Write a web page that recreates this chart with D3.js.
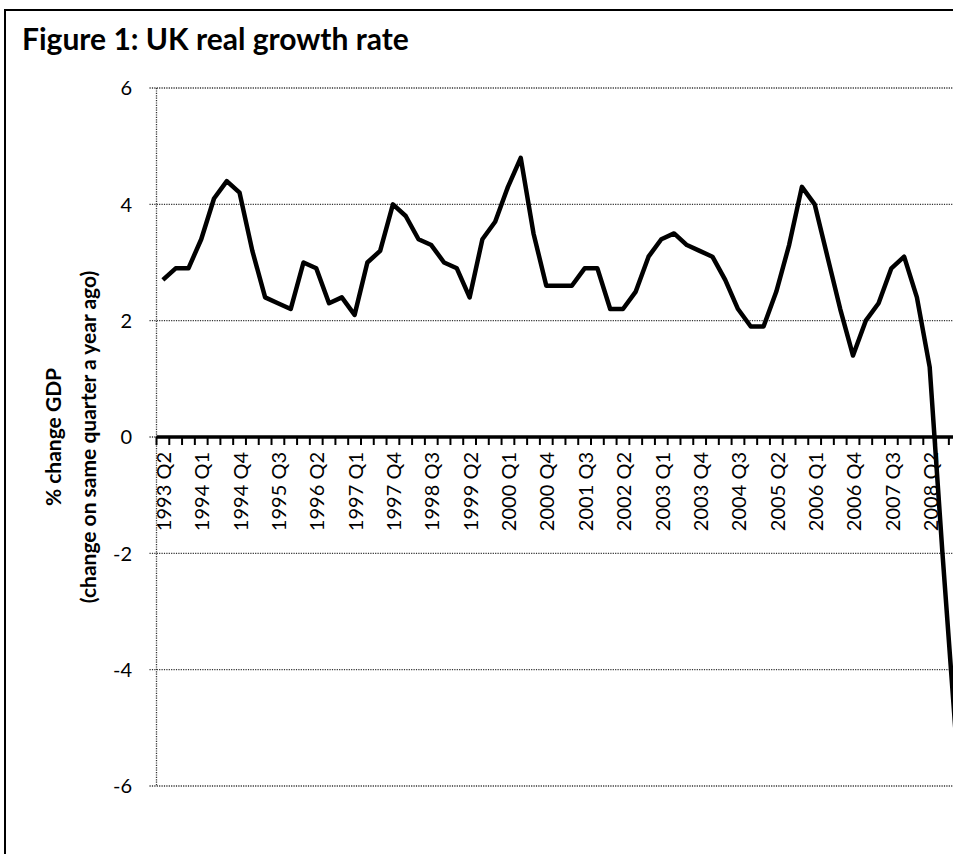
<!DOCTYPE html>
<html>
<head>
<meta charset="utf-8">
<script src="https://cdn.jsdelivr.net/npm/d3@7"></script>
<style>
  html, body { margin: 0; padding: 0; background: #fff; overflow: hidden; }
  text { font-family: Lato, "Open Sans", sans-serif; fill: #000; }
</style>
</head>
<body>
<div id="chart"></div>
<script>
// Quarters on the category axis
const quarters = [
  "1993 Q2", "1993 Q3", "1993 Q4",
  "1994 Q1", "1994 Q2", "1994 Q3", "1994 Q4",
  "1995 Q1", "1995 Q2", "1995 Q3", "1995 Q4",
  "1996 Q1", "1996 Q2", "1996 Q3", "1996 Q4",
  "1997 Q1", "1997 Q2", "1997 Q3", "1997 Q4",
  "1998 Q1", "1998 Q2", "1998 Q3", "1998 Q4",
  "1999 Q1", "1999 Q2", "1999 Q3", "1999 Q4",
  "2000 Q1", "2000 Q2", "2000 Q3", "2000 Q4",
  "2001 Q1", "2001 Q2", "2001 Q3", "2001 Q4",
  "2002 Q1", "2002 Q2", "2002 Q3", "2002 Q4",
  "2003 Q1", "2003 Q2", "2003 Q3", "2003 Q4",
  "2004 Q1", "2004 Q2", "2004 Q3", "2004 Q4",
  "2005 Q1", "2005 Q2", "2005 Q3", "2005 Q4",
  "2006 Q1", "2006 Q2", "2006 Q3", "2006 Q4",
  "2007 Q1", "2007 Q2", "2007 Q3", "2007 Q4",
  "2008 Q1", "2008 Q2", "2008 Q3", "2008 Q4"
];

// % change in GDP on the same quarter a year ago
const growth = [
  2.7, 2.9, 2.9,
  3.4, 4.1, 4.4, 4.2,
  3.2, 2.4, 2.3, 2.2,
  3.0, 2.9, 2.3, 2.4,
  2.1, 3.0, 3.2, 4.0,
  3.8, 3.4, 3.3, 3.0,
  2.9, 2.4, 3.4, 3.7,
  4.3, 4.8, 3.5, 2.6,
  2.6, 2.6, 2.9, 2.9,
  2.2, 2.2, 2.5, 3.1,
  3.4, 3.5, 3.3, 3.2,
  3.1, 2.7, 2.2, 1.9,
  1.9, 2.5, 3.3, 4.3,
  4.0, 3.1, 2.2, 1.4,
  2.0, 2.3, 2.9, 3.1,
  2.4, 1.2, -2.0, -5.0
];

// Labels shown on the category axis (every third quarter)
const shownLabels = [
  "1993 Q2", "1994 Q1", "1994 Q4", "1995 Q3", "1996 Q2", "1997 Q1", "1997 Q4",
  "1998 Q3", "1999 Q2", "2000 Q1", "2000 Q4", "2001 Q3", "2002 Q2", "2003 Q1",
  "2003 Q4", "2004 Q3", "2005 Q2", "2006 Q1", "2006 Q4", "2007 Q3", "2008 Q2"
];

const yTicks = [-6, -4, -2, 0, 2, 4, 6];

const width = 1000, height = 854;
const plot = { left: 156.5, top: 88, bottom: 786, step: 12.78 };

const svg = d3.select("#chart")
  .append("svg")
  .attr("width", width)
  .attr("height", height);

// Outer frame of the chart
svg.append("rect")
  .attr("x", 5)
  .attr("y", 10)
  .attr("width", width + 20)
  .attr("height", height + 20)
  .attr("fill", "#fff")
  .attr("stroke", "#000")
  .attr("stroke-width", 2);

// Title
svg.append("text")
  .attr("x", 22)
  .attr("y", 50)
  .attr("font-size", 30)
  .attr("font-weight", "bold")
  .text("Figure 1: UK real growth rate");

const x = d3.scaleBand()
  .domain(quarters)
  .range([plot.left, plot.left + plot.step * quarters.length]);

const y = d3.scaleLinear()
  .domain([-6, 6])
  .range([plot.bottom, plot.top]);

const dotted = "1.2,1.2";

// Gridlines with small tick marks to the left of the value axis
svg.append("g")
  .selectAll("line")
  .data(yTicks.filter(d => d !== 0))
  .join("line")
  .attr("x1", plot.left - 7)
  .attr("x2", width)
  .attr("y1", d => y(d))
  .attr("y2", d => y(d))
  .attr("stroke", "#333")
  .attr("stroke-width", 1.3)
  .attr("stroke-dasharray", dotted);

// Value axis line
svg.append("line")
  .attr("x1", plot.left)
  .attr("x2", plot.left)
  .attr("y1", y(6))
  .attr("y2", y(-6))
  .attr("stroke", "#333")
  .attr("stroke-width", 1.3)
  .attr("stroke-dasharray", dotted);

svg.append("line")
  .attr("x1", plot.left - 7)
  .attr("x2", plot.left)
  .attr("y1", y(0))
  .attr("y2", y(0))
  .attr("stroke", "#333")
  .attr("stroke-width", 1.3)
  .attr("stroke-dasharray", dotted);

// Value axis labels
svg.append("g")
  .selectAll("text")
  .data(yTicks)
  .join("text")
  .attr("x", 132)
  .attr("y", d => y(d))
  .attr("dy", "0.36em")
  .attr("text-anchor", "end")
  .attr("font-size", 20)
  .text(d => d);

// Value axis title
const yTitle = svg.append("text")
  .attr("transform", `translate(0, ${(plot.top + plot.bottom) / 2}) rotate(-90)`)
  .attr("text-anchor", "middle")
  .attr("font-size", 21)
  .attr("font-weight", "bold");
yTitle.append("tspan").attr("x", 0).attr("y", 61).text("% change GDP");
yTitle.append("tspan").attr("x", 0).attr("y", 96).text("(change on same quarter a year ago)");

// Category axis at zero
const xAxis = svg.append("g")
  .attr("transform", `translate(0, ${y(0)})`);

xAxis.selectAll("line.tick")
  .data(d3.range(quarters.length + 1))
  .join("line")
  .attr("class", "tick")
  .attr("x1", i => plot.left + i * x.step())
  .attr("x2", i => plot.left + i * x.step())
  .attr("y1", 0)
  .attr("y2", 8)
  .attr("stroke", "#000")
  .attr("stroke-width", 2);

xAxis.append("line")
  .attr("x1", plot.left)
  .attr("x2", width)
  .attr("stroke", "#000")
  .attr("stroke-width", 3.5);

xAxis.selectAll("text")
  .data(shownLabels)
  .join("text")
  .attr("transform", d => `translate(${x(d) + x.bandwidth() / 2 + 1}, 15) rotate(-90)`)
  .attr("dy", "0.36em")
  .attr("text-anchor", "end")
  .attr("font-size", 20)
  .text(d => d);

// Growth line
const line = d3.line()
  .x((d, i) => x(quarters[i]) + x.bandwidth() / 2)
  .y(d => y(d));

svg.append("path")
  .datum(growth)
  .attr("fill", "none")
  .attr("stroke", "#000")
  .attr("stroke-width", 4.5)
  .attr("stroke-linejoin", "round")
  .attr("d", line);
</script>
</body>
</html>
